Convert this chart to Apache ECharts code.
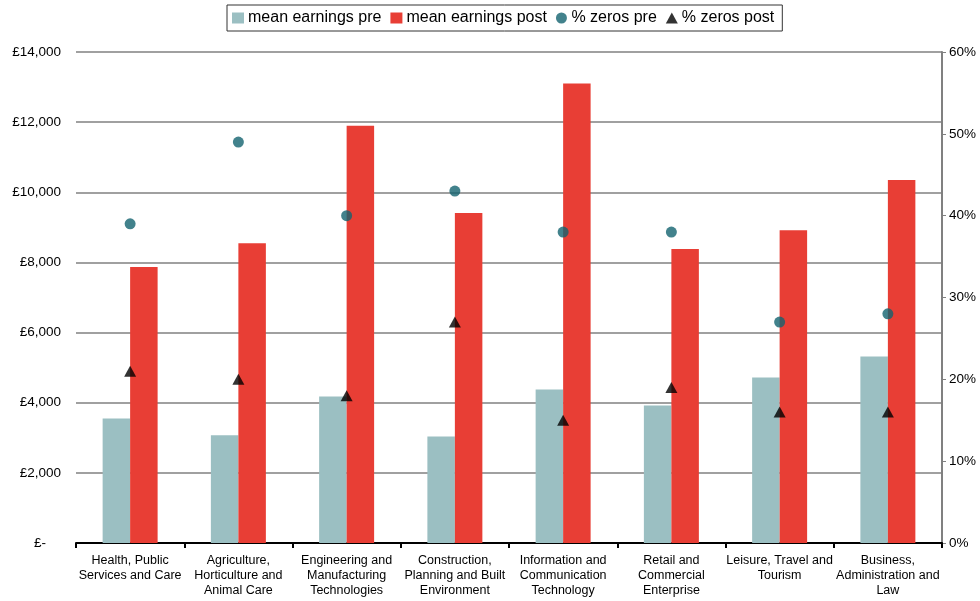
<!DOCTYPE html>
<html>
<head>
<meta charset="utf-8">
<script src="https://cdn.jsdelivr.net/npm/echarts@6/dist/echarts.min.js"></script>
<style>
html,body{margin:0;padding:0;background:#fff;}
#chart{width:980px;height:601px;}
</style>
</head>
<body>
<div id="chart"></div>
<script>
const categories = [
  "Health, Public\nServices and Care",
  "Agriculture,\nHorticulture and\nAnimal Care",
  "Engineering and\nManufacturing\nTechnologies",
  "Construction,\nPlanning and Built\nEnvironment",
  "Information and\nCommunication\nTechnology",
  "Retail and\nCommercial\nEnterprise",
  "Leisure, Travel and\nTourism",
  "Business,\nAdministration and\nLaw"
];
const meanEarningsPre = [3550, 3070, 4180, 3040, 4380, 3920, 4720, 5320];
const meanEarningsPost = [7870, 8550, 11900, 9410, 13100, 8380, 8920, 10350];
const zerosPre = [0.39, 0.49, 0.40, 0.43, 0.38, 0.38, 0.27, 0.28];
const zerosPost = [0.21, 0.20, 0.18, 0.27, 0.15, 0.19, 0.16, 0.16];
const leftTicks = {min: 0, max: 14000, interval: 2000};
const rightTicks = {min: 0, max: 0.6, interval: 0.1};

const FONT = "Liberation Sans, Arial, sans-serif";
const chart = echarts.init(document.getElementById('chart'), null, {renderer: 'canvas'});
chart.setOption({
  animation: false,
  textStyle: {fontFamily: FONT},
  grid: {left: 76, right: 38, top: 52, bottom: 58, containLabel: false},
  legend: {
    top: 5,
    left: 227,
    padding: [5, 8, 5, 5],
    borderColor: '#333',
    borderWidth: 1,
    itemWidth: 12,
    itemHeight: 11,
    itemGap: 9,
    textStyle: {fontFamily: FONT, fontSize: 16, color: '#000', padding: [0, 0, 0, -1]},
    data: [
      {name: 'mean earnings pre', icon: 'rect'},
      {name: 'mean earnings post', icon: 'rect'},
      {name: '% zeros pre', icon: 'circle'},
      {name: '% zeros post', icon: 'triangle'}
    ]
  },
  xAxis: {
    type: 'category',
    data: categories,
    boundaryGap: true,
    axisLine: {show: true, lineStyle: {color: '#000', width: 2}},
    axisTick: {show: true, interval: 0, length: 5, lineStyle: {color: '#000', width: 2}},
    axisLabel: {interval: 0, fontSize: 12.5, lineHeight: 15, color: '#000', margin: 10, fontFamily: FONT}
  },
  yAxis: [
    {
      type: 'value',
      min: leftTicks.min, max: leftTicks.max, interval: leftTicks.interval,
      axisLine: {show: false},
      axisTick: {show: false},
      splitLine: {show: true, lineStyle: {color: '#a0a0a0', width: 2}},
      axisLabel: {
        fontSize: 13.5, color: '#000', margin: 15, fontFamily: FONT,
        formatter: v => v === 0 ? '£-    ' : '£' + v.toLocaleString('en-GB')
      }
    },
    {
      type: 'value',
      min: rightTicks.min, max: rightTicks.max, interval: rightTicks.interval,
      position: 'right',
      axisLine: {show: true, lineStyle: {color: '#808080', width: 2}},
      axisTick: {show: true, length: 4, lineStyle: {color: '#808080', width: 1}},
      splitLine: {show: false},
      axisLabel: {
        fontSize: 13.5, color: '#000', margin: 7, fontFamily: FONT,
        formatter: v => Math.round(v * 100) + '%'
      }
    }
  ],
  series: [
    {
      name: 'mean earnings pre', type: 'bar', yAxisIndex: 0,
      data: meanEarningsPre, barWidth: '25.4%', barGap: '0%',
      itemStyle: {color: '#9bbfc2'}
    },
    {
      name: 'mean earnings post', type: 'bar', yAxisIndex: 0,
      data: meanEarningsPost, barWidth: '25.4%', barGap: '0%',
      itemStyle: {color: '#e83e35'}
    },
    {
      name: '% zeros pre', type: 'scatter', yAxisIndex: 1,
      data: zerosPre, symbol: 'circle', symbolSize: 11,
      itemStyle: {color: '#13636f'}, z: 5
    },
    {
      name: '% zeros post', type: 'scatter', yAxisIndex: 1,
      data: zerosPost, symbol: 'triangle', symbolSize: [12, 11],
      itemStyle: {color: '#000'}, z: 5
    }
  ]
});
</script>
</body>
</html>
